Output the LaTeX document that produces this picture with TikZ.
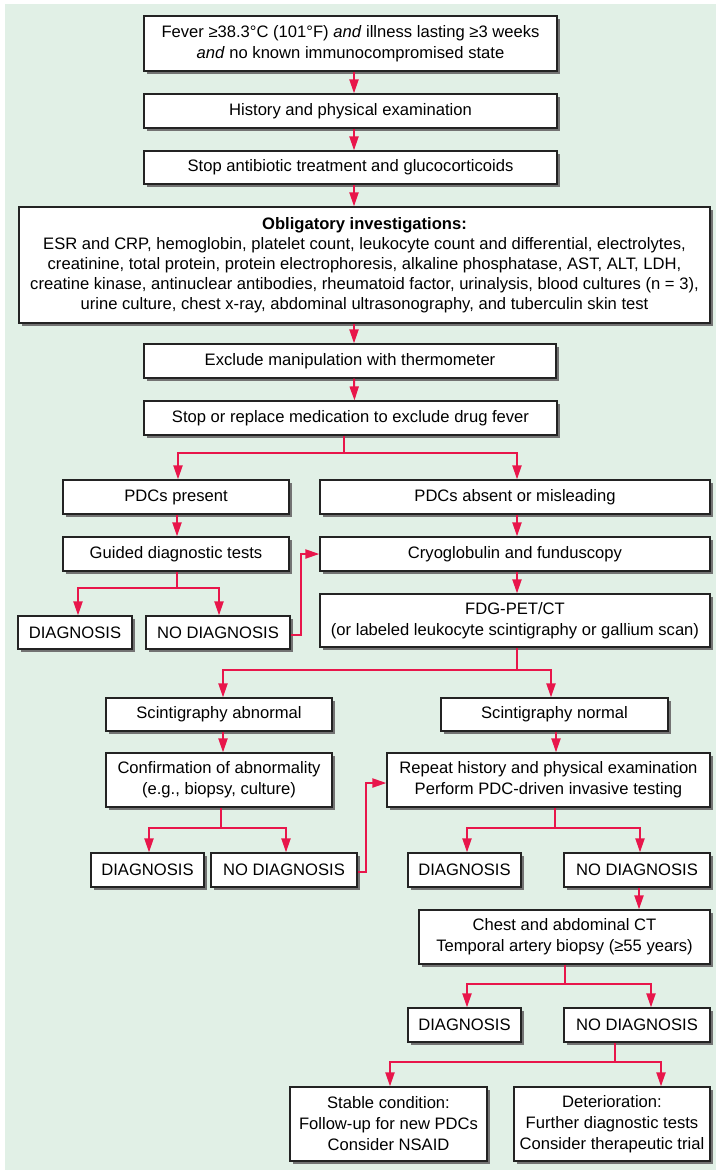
\documentclass[tikz,border=0pt]{standalone}
\usepackage{fontspec}
\setmainfont{Liberation Sans}
\usetikzlibrary{arrows.meta,shadows}
\definecolor{bggreen}{RGB}{225,240,230}
\definecolor{arrred}{RGB}{232,22,75}
\definecolor{shadowgray}{RGB}{115,115,115}
\definecolor{boxline}{RGB}{35,35,35}
\begin{document}
\begin{tikzpicture}[x=1pt,y=-1pt,
  box/.style={draw=boxline, line width=1.2pt, fill=white, align=center, inner sep=2pt,
    font=\fontsize{16.6}{21}\selectfont,
    drop shadow={shadow xshift=3pt, shadow yshift=-3pt, fill=shadowgray, opacity=1}},
  arr/.style={draw=arrred, line width=2pt, -{Triangle[length=14pt,width=9pt]}}]
\useasboundingbox (0,0) rectangle (716,1171);
\fill[white] (0,0) rectangle (716,1171);
\fill[bggreen] (5,4) rectangle (716,1170);

% main column
\node[box, minimum width=413pt, minimum height=55pt] (b1) at (350.5,43.5)
  {Fever ≥38.3°C (101°F) \textit{and} illness lasting ≥3 weeks\\\textit{and} no known immunocompromised state};
\node[box, minimum width=413pt, minimum height=34pt] (b2) at (350.5,111)
  {History and physical examination};
\node[box, minimum width=413pt, minimum height=33pt] (b3) at (350.5,167.5)
  {Stop antibiotic treatment and glucocorticoids};
\node[box, minimum width=691pt, minimum height=116pt, inner xsep=1pt,
  font=\fontsize{16.6}{20}\selectfont] (b4) at (364.5,265)
  {\textbf{Obligatory investigations:}\\
   ESR and CRP, hemoglobin, platelet count, leukocyte count and differential, electrolytes,\\
   creatinine, total protein, protein electrophoresis, alkaline phosphatase, AST, ALT, LDH,\\
   creatine kinase, antinuclear antibodies, rheumatoid factor, urinalysis, blood cultures (n = 3),\\
   urine culture, chest x-ray, abdominal ultrasonography, and tuberculin skin test};
\node[box, minimum width=412pt, minimum height=34pt] (b5) at (350,361)
  {Exclude manipulation with thermometer};
\node[box, minimum width=413pt, minimum height=34pt] (b6) at (350.5,418)
  {Stop or replace medication to exclude drug fever};

% second level
\node[box, minimum width=226pt, minimum height=34pt] (p1) at (176,497) {PDCs present};
\node[box, minimum width=390pt, minimum height=34pt] (p2) at (515,497) {PDCs absent or misleading};
\node[box, minimum width=226pt, minimum height=34pt] (g) at (176,554) {Guided diagnostic tests};
\node[box, minimum width=390pt, minimum height=34pt] (cryo) at (515,554) {Cryoglobulin and funduscopy};
\node[box, minimum width=114pt, minimum height=33pt] (d1) at (75,632.5) {DIAGNOSIS};
\node[box, minimum width=144pt, minimum height=33pt] (n1) at (218,632.5) {NO DIAGNOSIS};
\node[box, minimum width=390pt, minimum height=53pt] (fdg) at (515,620.5)
  {FDG-PET/CT\\(or labeled leukocyte scintigraphy or gallium scan)};

% third level
\node[box, minimum width=226pt, minimum height=33pt] (sa) at (219,714.5) {Scintigraphy abnormal};
\node[box, minimum width=227pt, minimum height=33pt] (sn) at (554.5,714.5) {Scintigraphy normal};
\node[box, minimum width=226pt, minimum height=54pt] (conf) at (219,780)
  {Confirmation of abnormality\\(e.g., biopsy, culture)};
\node[box, minimum width=323pt, minimum height=54pt] (rep) at (548.5,780)
  {Repeat history and physical examination\\Perform PDC-driven invasive testing};
\node[box, minimum width=113pt, minimum height=34pt] (d2) at (147.5,870) {DIAGNOSIS};
\node[box, minimum width=146pt, minimum height=34pt] (n2) at (284,870) {NO DIAGNOSIS};
\node[box, minimum width=113pt, minimum height=34pt] (d3) at (464.5,870) {DIAGNOSIS};
\node[box, minimum width=146pt, minimum height=34pt] (n3) at (637,870) {NO DIAGNOSIS};
\node[box, minimum width=291pt, minimum height=54pt] (chest) at (564.5,937)
  {Chest and abdominal CT\\Temporal artery biopsy (≥55 years)};
\node[box, minimum width=113pt, minimum height=34pt] (d4) at (464.5,1025) {DIAGNOSIS};
\node[box, minimum width=146pt, minimum height=34pt] (n4) at (637,1025) {NO DIAGNOSIS};
\node[box, minimum width=197pt, minimum height=74pt] (st) at (388.5,1124)
  {Stable condition:\\Follow-up for new PDCs\\Consider NSAID};
\node[box, minimum width=196pt, minimum height=74pt] (de) at (612,1124)
  {Deterioration:\\Further diagnostic tests\\Consider therapeutic trial};

% junctions
\coordinate (j1) at (344,453);
\coordinate (j2) at (177,588);
\coordinate (j3) at (517,670);
\coordinate (j4) at (221,828);
\coordinate (j5) at (555,828);
\coordinate (j6) at (565,984);
\coordinate (j7) at (615,1062);

% connectors
\draw[arr] ([xshift=3.5pt]b1.south) -- ([xshift=3.5pt]b2.north);
\draw[arr] ([xshift=3.5pt]b2.south) -- ([xshift=3.5pt]b3.north);
\draw[arr] ([xshift=3.5pt]b3.south) -- ([xshift=3.5pt]b3.south |- b4.north);
\draw[arr] ([xshift=4pt]b5.north |- b4.south) -- ([xshift=4pt]b5.north);
\draw[arr] ([xshift=4pt]b5.south) -- ([xshift=4pt]b6.north);
\draw[arr] (b6.south -| j1) -- (j1) -| ([xshift=2pt]p1.north);
\draw[arr] (j1) -| ([xshift=2pt]p2.north);
\draw[arr] ([xshift=1pt]p1.south) -- ([xshift=1pt]g.north);
\draw[arr] ([xshift=2pt]p2.south) -- ([xshift=2pt]cryo.north);
\draw[arr] (g.south -| j2) -- (j2) -| ([xshift=3pt]d1.north);
\draw[arr] (j2) -| ([xshift=1pt]n1.north);
\draw[arr] ([yshift=-2.5pt]n1.east) -- ++(10,0) |- (cryo.west);
\draw[arr] ([xshift=2pt]cryo.south) -- ([xshift=2pt]fdg.north);
\draw[arr] (fdg.south -| j3) -- (j3) -| ([xshift=4pt]sa.north);
\draw[arr] (j3) -| ([xshift=-3.5pt]sn.north);
\draw[arr] ([xshift=4pt]sa.south) -- ([xshift=4pt]conf.north);
\draw[arr] ([xshift=1.5pt]sn.south) -- ([xshift=1.5pt]sn.south |- rep.north);
\draw[arr] (conf.south -| j4) -- (j4) -| ([xshift=1.5pt]d2.north);
\draw[arr] (j4) -| ([xshift=2pt]n2.north);
\draw[arr] ([yshift=-2pt]n2.east) -- ++(8,0) |- ([yshift=-3pt]rep.west);
\draw[arr] (rep.south -| j5) -- (j5) -| ([xshift=2.5pt]d3.north);
\draw[arr] (j5) -| ([xshift=3pt]n3.north);
\draw[arr] ([xshift=2pt]n3.south) -- ([xshift=2pt]n3.south |- chest.north);
\draw[arr] (chest.south -| j6) -- (j6) -| ([xshift=2.5pt]d4.north);
\draw[arr] (j6) -| ([xshift=14pt]n4.north);
\draw[arr] (n4.south -| j7) -- (j7) -| ([xshift=1.5pt]st.north);
\draw[arr] (j7) -| ([xshift=49pt]de.north);
\end{tikzpicture}
\end{document}
